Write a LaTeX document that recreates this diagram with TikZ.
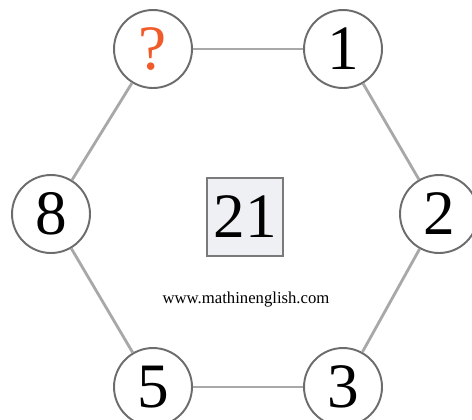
\documentclass[tikz,border=0pt]{standalone}
\usepackage{fontspec}
\setmainfont{Liberation Serif}
\usepackage{xcolor}
\usetikzlibrary{positioning}
\definecolor{ringgray}{HTML}{6C6C6C}
\definecolor{linkgray}{HTML}{A8A8A8}
\definecolor{boxgray}{HTML}{7A7A7A}
\definecolor{boxfill}{HTML}{EEF0F3}
\definecolor{qorange}{HTML}{F15A29}

\begin{document}
\begin{tikzpicture}[x=0.02cm, y=-0.02cm,
  num/.style={draw=ringgray,line width=1.1pt,circle,fill=white,minimum size=1.56cm,inner sep=0pt,font=\fontsize{36}{36}\selectfont},
  link/.style={draw=linkgray,line width=1.6pt}]
\useasboundingbox (0,0) rectangle (472,419);
\node[num] (Q) at (153,49) {\textcolor{qorange}{?}};
\node[num] (N1) at (343,49) {1};
\node[num] (N2) at (439,214) {2};
\node[num] (N3) at (343,387) {3};
\node[num] (N5) at (153,387) {5};
\node[num] (N8) at (51,214) {8};
\draw[link] (Q) -- (N1);
\draw[link] (N1) -- (N2);
\draw[link] (N2) -- (N3);
\draw[link] (N3) -- (N5);
\draw[link] (N5) -- (N8);
\draw[link] (N8) -- (Q);
\node[draw=boxgray,fill=boxfill,line width=1.2pt,minimum width=1.52cm,minimum height=1.56cm,inner sep=0pt,font=\fontsize{36}{36}\selectfont] (S) at (245,217) {21};
\node[font=\fontsize{9.5}{11}\selectfont] (W) at (246,300) {www.mathinenglish.com};
\end{tikzpicture}
\end{document}
